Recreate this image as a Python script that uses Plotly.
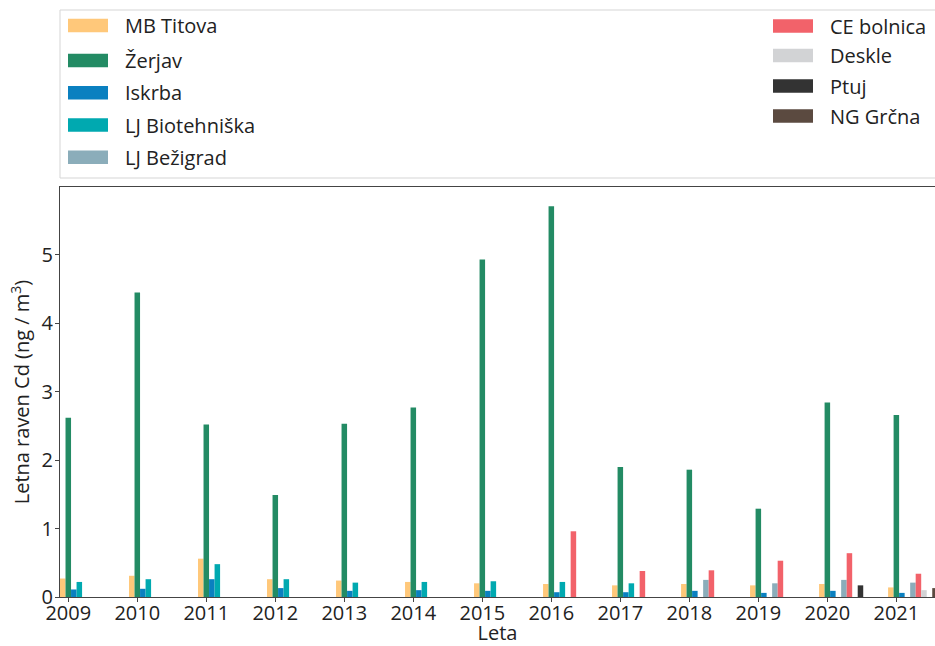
import plotly.graph_objects as go

# Letna raven kadmija (Cd) po merilnih mestih, ng/m3
years = [2009, 2010, 2011, 2012, 2013, 2014, 2015, 2016, 2017, 2018, 2019, 2020, 2021]

mb_titova = [0.27, 0.31, 0.56, 0.26, 0.24, 0.22, 0.20, 0.19, 0.17, 0.19, 0.17, 0.19, 0.14]
zerjav = [2.62, 4.45, 2.52, 1.49, 2.53, 2.77, 4.93, 5.71, 1.90, 1.86, 1.29, 2.84, 2.66]
iskrba = [0.11, 0.12, 0.26, 0.13, 0.09, 0.10, 0.09, 0.07, 0.07, 0.09, 0.06, 0.09, 0.06]
lj_biotehniska = [0.22, 0.26, 0.48, 0.26, 0.21, 0.22, 0.23, 0.22, 0.20, None, None, None, None]
lj_bezigrad = [None, None, None, None, None, None, None, None, None, 0.25, 0.20, 0.25, 0.21]
ce_bolnica = [None, None, None, None, None, None, None, 0.96, 0.38, 0.39, 0.53, 0.64, 0.34]
deskle = [None, None, None, None, None, None, None, None, None, None, None, None, 0.10]
ptuj = [None, None, None, None, None, None, None, None, None, None, None, 0.17, None]
ng_grcna = [None, None, None, None, None, None, None, None, None, None, None, None, 0.13]

names = ["MB Titova", "Žerjav", "Iskrba", "LJ Biotehniška", "LJ Bežigrad",
         "CE bolnica", "Deskle", "Ptuj", "NG Grčna"]
series = [mb_titova, zerjav, iskrba, lj_biotehniska, lj_bezigrad,
          ce_bolnica, deskle, ptuj, ng_grcna]
colors = ["#FFC87A", "#238B64", "#0A80C0", "#00A9B0", "#8BADBA",
          "#F2626A", "#D2D3D5", "#333333", "#5B4A40"]

FONT = "Open Sans"
W, H = 935, 646
L, R, T, B = 60, 0, 187, 49
bar_w = 0.08

fig = go.Figure()
for i, (name, vals, col) in enumerate(zip(names, series, colors)):
    fig.add_trace(go.Bar(
        x=years, y=vals, name=name,
        width=bar_w, offset=(i - 1.5) * bar_w,
        marker=dict(color=col, line=dict(width=0)),
        showlegend=False,
    ))

# pixel -> paper helpers for the legend drawn above the plot
pw, ph = W - L - R, H - T - B
def px(x):
    return (x - L) / pw
def py(y):
    return (H - B - y) / ph

shapes = [dict(type="rect", xref="paper", yref="paper",
               x0=px(60), x1=px(945), y0=py(178), y1=py(10),
               line=dict(color="#d5d5d5", width=1), fillcolor="white", layer="below")]
annotations = []
left_rows = [25.5, 60.5, 92.7, 125, 157.3]
right_rows = [26, 55.5, 86, 116]
for i, (name, col) in enumerate(zip(names, colors)):
    if i < 5:
        sx, ty = 68, left_rows[i]
    else:
        sx, ty = 773, right_rows[i - 5]
    shapes.append(dict(type="rect", xref="paper", yref="paper",
                       x0=px(sx), x1=px(sx + 40), y0=py(ty + 6.7), y1=py(ty - 6.7),
                       line=dict(width=0), fillcolor=col))
    annotations.append(dict(xref="paper", yref="paper", x=px(sx + 55), y=py(ty),
                            xanchor="left", yanchor="middle", showarrow=False,
                            text=name, font=dict(family=FONT, size=20, color="#222")))

fig.update_layout(
    width=W, height=H,
    margin=dict(l=L, r=R, t=T, b=B),
    plot_bgcolor="white", paper_bgcolor="white",
    barmode="overlay",
    font=dict(family=FONT, size=20, color="#222"),
    shapes=shapes, annotations=annotations,
    xaxis=dict(
        range=[2008.88, 2021.56],
        tickmode="array", tickvals=years, ticktext=[str(y) for y in years],
        ticks="outside", ticklen=4, tickcolor="#444",
        ticklabelstandoff=-6,
        showline=True, linecolor="#444", mirror=True,
        showgrid=False, zeroline=False,
        title=dict(text="Leta", font=dict(size=20), standoff=4),
        automargin=False,
    ),
    yaxis=dict(
        range=[0, 5.99],
        tickvals=[0, 1, 2, 3, 4, 5],
        ticks="outside", ticklen=4, tickcolor="#444",
        ticklabelstandoff=-2,
        showline=True, linecolor="#444",
        showgrid=False, zeroline=False,
        title=dict(text="Letna raven Cd (ng / m<sup>3</sup>)", font=dict(size=20), standoff=6),
        automargin=False,
    ),
)

# the page's default body margin would shift the figure by 8px
fig.write_html("out.html", config={"displayModeBar": False},
               post_script="document.body.style.margin='0';")
